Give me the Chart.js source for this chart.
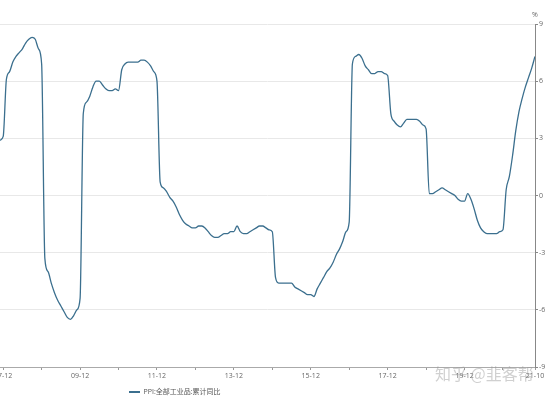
<!DOCTYPE html>
<html><head><meta charset="utf-8">
<script src="https://cdn.jsdelivr.net/npm/chart.js@4.4.0/dist/chart.umd.min.js"></script>
<style>html,body{margin:0;padding:0;background:#fff;} #wrap{position:relative;width:554px;height:398px;}</style>
</head><body><div id="wrap"><canvas id="c" width="554" height="398"></canvas></div>
<script>
// PPI: all industrial products, cumulative YoY (%), monthly, 2007-11 .. 2021-10
const ppi2007 = [2.9, 3.1];
const ppi2008 = [6.1, 6.5, 7.0, 7.3, 7.5, 7.7, 8.0, 8.2, 8.3, 8.2, 7.7, 6.9];
const ppi2009 = [-3.3, -4.0, -4.6, -5.1, -5.5, -5.8, -6.1, -6.4, -6.5, -6.3, -6.0, -5.4];
const ppi2010 = [4.3, 4.9, 5.2, 5.7, 6.0, 6.0, 5.8, 5.6, 5.5, 5.5, 5.6, 5.5];
const ppi2011 = [6.6, 6.9, 7.0, 7.0, 7.0, 7.0, 7.1, 7.1, 7.0, 6.8, 6.5, 6.0];
const ppi2012 = [0.7, 0.4, 0.2, -0.1, -0.3, -0.6, -1.0, -1.3, -1.5, -1.6, -1.7, -1.7];
const ppi2013 = [-1.6, -1.6, -1.7, -1.9, -2.1, -2.2, -2.2, -2.1, -2.0, -2.0, -1.9, -1.9];
const ppi2014 = [-1.6, -1.9, -2.0, -2.0, -1.9, -1.8, -1.7, -1.6, -1.6, -1.7, -1.8, -1.9];
const ppi2015 = [-4.3, -4.6, -4.6, -4.6, -4.6, -4.6, -4.8, -4.9, -5.0, -5.1, -5.2, -5.2];
const ppi2016 = [-5.3, -4.9, -4.6, -4.3, -4.0, -3.8, -3.5, -3.1, -2.8, -2.4, -1.9, -1.4];
const ppi2017 = [6.9, 7.3, 7.4, 7.2, 6.8, 6.6, 6.4, 6.4, 6.5, 6.5, 6.4, 6.3];
const ppi2018 = [4.3, 3.9, 3.7, 3.6, 3.8, 4.0, 4.0, 4.0, 4.0, 3.9, 3.7, 3.5];
const ppi2019 = [0.1, 0.1, 0.2, 0.3, 0.4, 0.3, 0.2, 0.1, 0.0, -0.2, -0.3, -0.3];
const ppi2020 = [0.1, -0.2, -0.7, -1.3, -1.7, -1.9, -2.0, -2.0, -2.0, -2.0, -1.9, -1.8];
const ppi2021 = [0.3, 1.0, 2.1, 3.4, 4.4, 5.1, 5.7, 6.2, 6.7, 7.3];

const seriesName = 'PPI:全部工业品:累计同比';
const xTickMonths = ['2007-12','2008-12','2009-12','2010-12','2011-12','2012-12','2013-12','2014-12','2015-12','2016-12','2017-12','2018-12','2019-12','2020-12','2021-10'];
const xTickLabels = ['07-12','','09-12','','11-12','','13-12','','15-12','','17-12','','19-12','','21-10'];
const yTicks = [-9, -6, -3, 0, 3, 6, 9];
const unitLabel = '%';
const watermark = '知乎 @韭客帮';

const ppiValues = [].concat(ppi2007, ppi2008, ppi2009, ppi2010, ppi2011, ppi2012, ppi2013,
  ppi2014, ppi2015, ppi2016, ppi2017, ppi2018, ppi2019, ppi2020, ppi2021);
const months = [];
for (let i = 0; i < ppiValues.length; i++) {
  const t = 2007 * 12 + 10 + i;
  months.push(Math.floor(t / 12) + '-' + String(t % 12 + 1).padStart(2, '0'));
}

const FAM = "'Open Sans', 'Noto Sans CJK SC', sans-serif";
const tickFont = { size: 7, family: FAM };

const extras = {
  id: 'extras',
  afterLayout(chart) {
    const lg = chart.legend;
    if (!lg) return;
    const p = lg.options.labels.padding;
    const w = lg.width, h = lg.height;
    lg.left = 129 - p; lg.right = lg.left + w;
    lg.top = 392 - p - 3.5; lg.bottom = lg.top + h;
  },
  afterDraw(chart) {
    const ctx = chart.ctx, a = chart.chartArea;
    ctx.save();
    ctx.font = "7px " + FAM;
    ctx.fillStyle = '#666';
    ctx.textAlign = 'center';
    ctx.textBaseline = 'middle';
    ctx.fillText(unitLabel, a.right, a.top - 9);
    ctx.font = "16px 'Noto Sans CJK SC'";
    ctx.fillStyle = 'rgba(150,150,150,0.45)';
    ctx.textAlign = 'left';
    ctx.fillText(watermark, 435, 374);
    ctx.restore();
  }
};

new Chart(document.getElementById('c'), {
  type: 'line',
  data: {
    datasets: [{
      label: seriesName,
      data: ppiValues.map((v, i) => ({ x: i, y: v })),
      borderColor: '#3b6f8e',
      backgroundColor: '#3b6f8e',
      borderWidth: 1.3,
      pointRadius: 0,
      fill: false,
      cubicInterpolationMode: 'monotone'
    }]
  },
  options: {
    responsive: false,
    animation: false,
    devicePixelRatio: 1,
    layout: { padding: { top: 24, left: 0, right: 0, bottom: 0 } },
    plugins: {
      tooltip: { enabled: false },
      legend: {
        position: 'bottom',
        align: 'start',
        labels: {
          usePointStyle: true,
          pointStyle: 'line',
          pointStyleWidth: 11,
          boxHeight: 7,
          padding: 2,
          color: '#555',
          font: { size: 7, family: FAM },
          generateLabels: (chart) => Chart.defaults.plugins.legend.labels.generateLabels(chart).map(l => ({ ...l, lineWidth: 2 }))
        }
      }
    },
    scales: {
      x: {
        type: 'linear',
        min: 0,
        max: months.length - 1,
        afterBuildTicks: (s) => { s.ticks = xTickMonths.map(m => ({ value: months.indexOf(m) })); },
        afterFit: (s) => { s.height = 12; s.paddingLeft = 0; s.paddingRight = 0; },
        ticks: {
          autoSkip: false, maxRotation: 0, minRotation: 0, padding: 2,
          color: '#666', font: tickFont,
          callback: (v, i) => xTickLabels[i]
        },
        grid: { drawOnChartArea: false, tickLength: 3, tickColor: '#999' },
        border: { color: '#aaa' }
      },
      y: {
        position: 'right',
        min: -9, max: 9,
        afterBuildTicks: (s) => { s.ticks = yTicks.map(v => ({ value: v })); },
        afterFit: (s) => { s.width = 19; s.paddingTop = 0; s.paddingBottom = 0; },
        ticks: { padding: 1, color: '#666', font: tickFont, callback: (v) => String(v) },
        grid: { color: '#e8e8e8', tickLength: 3, tickColor: '#888' },
        border: { color: '#888' }
      }
    }
  },
  plugins: [extras]
});
</script>
</body></html>
